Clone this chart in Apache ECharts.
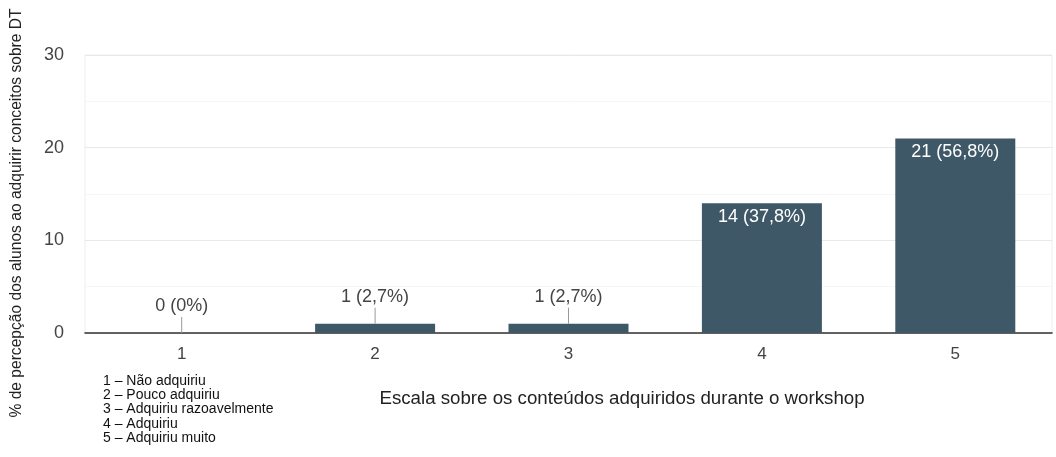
<!DOCTYPE html>
<html>
<head>
<meta charset="utf-8">
<script src="https://cdn.jsdelivr.net/npm/echarts@6/dist/echarts.min.js"></script>
<style>
  html, body { margin: 0; padding: 0; background: #fff; }
  #chart { width: 1056px; height: 457px; }
</style>
</head>
<body>
<div id="chart"></div>
<script>
// Scale levels, student counts and the percentage each count represents
const categories = ['1', '2', '3', '4', '5'];
const counts = [0, 1, 1, 14, 21];
const percents = ['0%', '2,7%', '2,7%', '37,8%', '56,8%'];
const yTicks = [0, 10, 20, 30];
const scaleKey = [
  '1 – Não adquiriu',
  '2 – Pouco adquiriu',
  '3 – Adquiriu razoavelmente',
  '4 – Adquiriu',
  '5 – Adquiriu muito'
];

const FONT = '"Liberation Sans", Arial, sans-serif';
const BAR = '#3e5867';
const INSIDE_MIN = 5; // bars at least this tall carry their label inside

const labelText = i => counts[i] + ' (' + percents[i] + ')';

const chart = echarts.init(document.getElementById('chart'), null, { renderer: 'canvas' });

chart.setOption({
  animation: false,
  backgroundColor: '#fff',
  grid: { left: 85, right: 4, top: 55, bottom: 124, show: true, borderColor: '#eeeeee', borderWidth: 1 },
  xAxis: {
    type: 'category',
    data: categories,
    axisLine: { lineStyle: { color: '#333', width: 1.6 } },
    axisTick: { show: false },
    axisLabel: { color: '#444', fontSize: 17, fontFamily: FONT, margin: 13 }
  },
  yAxis: {
    type: 'value',
    min: yTicks[0],
    max: yTicks[yTicks.length - 1],
    interval: yTicks[1] - yTicks[0],
    axisLine: { show: false },
    axisTick: { show: false },
    axisLabel: { color: '#444', fontSize: 18, fontFamily: FONT, margin: 21 },
    splitLine: { lineStyle: { color: '#e8e8e8' } },
    minorTick: { show: false, splitNumber: 2 },
    minorSplitLine: { show: true, lineStyle: { color: '#f6f6f6' } }
  },
  series: [
    {
      type: 'bar',
      barWidth: 120,
      itemStyle: { color: BAR },
      data: counts.map((v, i) => ({
        value: v,
        label: {
          show: v >= INSIDE_MIN,
          position: 'insideTop',
          distance: 5,
          color: '#fff',
          fontSize: 18,
          fontFamily: FONT,
          formatter: () => labelText(i)
        }
      }))
    },
    {
      // leader line and label placed above the short bars
      type: 'custom',
      silent: true,
      z: 5,
      data: counts.map((v, i) => [i, v]),
      renderItem: (params, api) => {
        const i = api.value(0);
        const v = api.value(1);
        if (v >= INSIDE_MIN) return null;
        const p = api.coord([i, v]);
        const top = p[1] - 16;
        return {
          type: 'group',
          children: [
            {
              type: 'line',
              shape: { x1: p[0], y1: p[1], x2: p[0], y2: top },
              style: { stroke: '#999', lineWidth: 1 }
            },
            {
              type: 'text',
              x: p[0],
              y: top - 2,
              style: {
                text: labelText(i),
                fill: '#444',
                font: '18px ' + FONT,
                align: 'center',
                verticalAlign: 'bottom'
              }
            }
          ]
        };
      }
    }
  ],
  graphic: [
    {
      type: 'text',
      x: 17,
      y: 213,
      rotation: Math.PI / 2,
      style: {
        text: '% de percepção dos alunos ao adquirir conceitos sobre DT',
        fill: '#222',
        font: '15.6px ' + FONT,
        align: 'center',
        verticalAlign: 'middle'
      }
    },
    {
      type: 'text',
      x: 622,
      y: 399,
      style: {
        text: 'Escala sobre os conteúdos adquiridos durante o workshop',
        fill: '#222',
        font: '18.7px ' + FONT,
        align: 'center',
        verticalAlign: 'middle'
      }
    },
    {
      type: 'text',
      x: 103,
      y: 374,
      style: {
        text: scaleKey.join('\n'),
        fill: '#111',
        font: '14px ' + FONT,
        lineHeight: 14.2,
        align: 'left',
        verticalAlign: 'top'
      }
    }
  ]
});
</script>
</body>
</html>
